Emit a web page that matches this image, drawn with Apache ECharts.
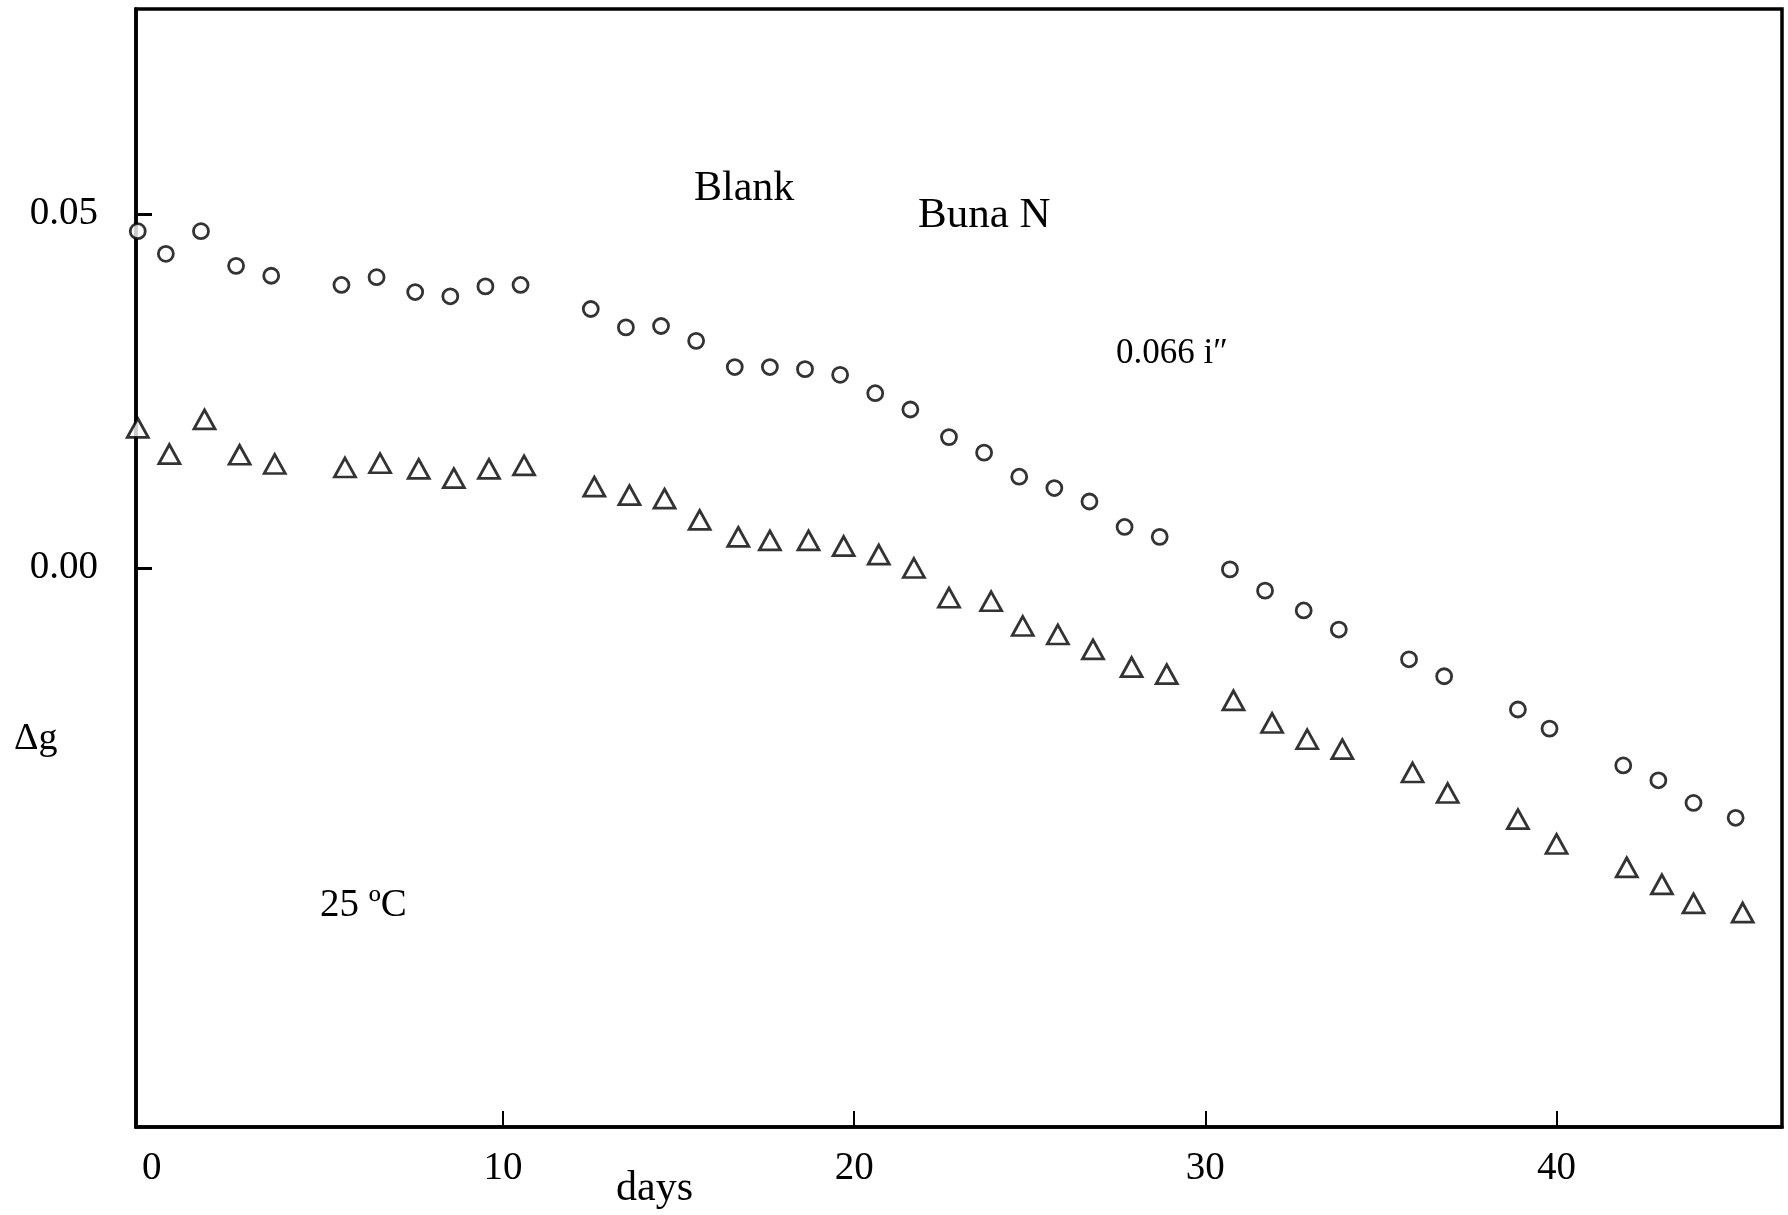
<!DOCTYPE html>
<html>
<head>
<meta charset="utf-8">
<script src="https://cdn.jsdelivr.net/npm/echarts@6/dist/echarts.min.js"></script>
<style>html,body{margin:0;padding:0;background:#fff;}#c{width:1788px;height:1215px;}</style>
</head>
<body>
<div id="c"></div>
<script>
// Blank (circles)
const circleDays = [-0.4,0.4,1.4,2.4,3.4,5.4,6.4,7.5,8.5,9.5,10.5,12.5,13.5,14.5,15.5,16.6,17.6,18.6,19.6,20.6,21.6,22.7,23.7,24.7,25.7,26.7,27.7,28.7,30.7,31.7,32.8,33.8,35.8,36.8,38.9,39.8,41.9,42.9,43.9,45.1];
const circleValues = [0.0476,0.0444,0.0476,0.0427,0.0413,0.0400,0.0411,0.0390,0.0384,0.0398,0.0400,0.0366,0.0340,0.0342,0.0321,0.0284,0.0284,0.0281,0.0273,0.0247,0.0224,0.0185,0.0163,0.0129,0.0113,0.0094,0.0058,0.0044,-0.0002,-0.0032,-0.0060,-0.0087,-0.0129,-0.0153,-0.0200,-0.0227,-0.0279,-0.0300,-0.0332,-0.0353];
// Buna N 0.066 in (triangles)
const triangleDays = [-0.4,0.5,1.5,2.5,3.5,5.5,6.5,7.6,8.6,9.6,10.6,12.6,13.6,14.6,15.6,16.7,17.6,18.7,19.7,20.7,21.7,22.7,23.9,24.8,25.8,26.8,27.9,28.9,30.8,31.9,32.9,33.9,35.9,36.9,38.9,40.0,42.0,43.0,43.9,45.3];
const triangleValues = [0.0198,0.0161,0.0210,0.0160,0.0147,0.0142,0.0148,0.0140,0.0127,0.0140,0.0145,0.0115,0.0103,0.0098,0.0068,0.0044,0.0039,0.0039,0.0031,0.0019,0.0000,-0.0042,-0.0047,-0.0082,-0.0094,-0.0115,-0.0140,-0.0150,-0.0187,-0.0219,-0.0242,-0.0256,-0.0289,-0.0318,-0.0355,-0.0390,-0.0423,-0.0447,-0.0474,-0.0487];
const xTickValues = [10, 20, 30, 40];
const xLabelValues = [0, 10, 20, 30, 40];
const yTickValues = [0, 0.05];

const FONT = 'Liberation Serif';
const chart = echarts.init(document.getElementById('c'));
const pair = (xs, ys) => xs.map((x, i) => [x, ys[i]]);
chart.setOption({
  animation: false,
  backgroundColor: '#fff',
  grid: { left: 136, right: 6, top: 9, bottom: 88, show: true, borderColor: '#000', borderWidth: 3.5, backgroundColor: 'transparent' },
  xAxis: {
    type: 'value', min: -0.45, max: 46.42,
    axisLine: { show: true, onZero: false, lineStyle: { color: '#000', width: 3.5 } },
    axisTick: { show: true, inside: true, length: 16, customValues: xTickValues, lineStyle: { color: '#000', width: 2 } },
    axisLabel: { customValues: xLabelValues, margin: 22, color: '#000', fontFamily: FONT, fontSize: 39 },
    splitLine: { show: false }
  },
  yAxis: {
    type: 'value', min: -0.079, max: 0.079,
    axisLine: { show: true, onZero: false, lineStyle: { color: '#000', width: 3.5 } },
    axisTick: { show: true, inside: true, length: 16, customValues: yTickValues, lineStyle: { color: '#000', width: 3 } },
    axisLabel: { customValues: yTickValues, margin: 38, color: '#000', fontFamily: FONT, fontSize: 39, formatter: v => v.toFixed(2) },
    splitLine: { show: false }
  },
  series: [
    { name: 'Blank', type: 'scatter', data: pair(circleDays, circleValues), symbol: 'circle', symbolSize: 15, clip: false,
      itemStyle: { color: '#fff', borderColor: '#000', borderWidth: 2.8 } },
    { name: 'Buna N', type: 'scatter', data: pair(triangleDays, triangleValues), symbol: 'triangle', symbolSize: [21, 19], clip: false,
      itemStyle: { color: '#fff', borderColor: '#000', borderWidth: 2.8 } }
  ],
  graphic: [
    { type: 'text', left: 694, top: 168, style: { text: 'Blank', font: '42px "Liberation Serif"', fill: '#000' } },
    { type: 'text', left: 918, top: 194, style: { text: 'Buna N', font: '43px "Liberation Serif"', fill: '#000' } },
    { type: 'text', left: 1116, top: 336, style: { text: '0.066 i\u2033', font: '35px "Liberation Serif"', fill: '#000' } },
    { type: 'text', left: 320, top: 886, style: { text: '25 \u00baC', font: '39px "Liberation Serif"', fill: '#000' } },
    { type: 'text', left: 14, top: 720, style: { text: '\u0394g', font: '38px "Liberation Serif"', fill: '#000' } },
    { type: 'text', left: 616, top: 1168, style: { text: 'days', font: '42px "Liberation Serif"', fill: '#000' } }
  ]
});
</script>
</body>
</html>
